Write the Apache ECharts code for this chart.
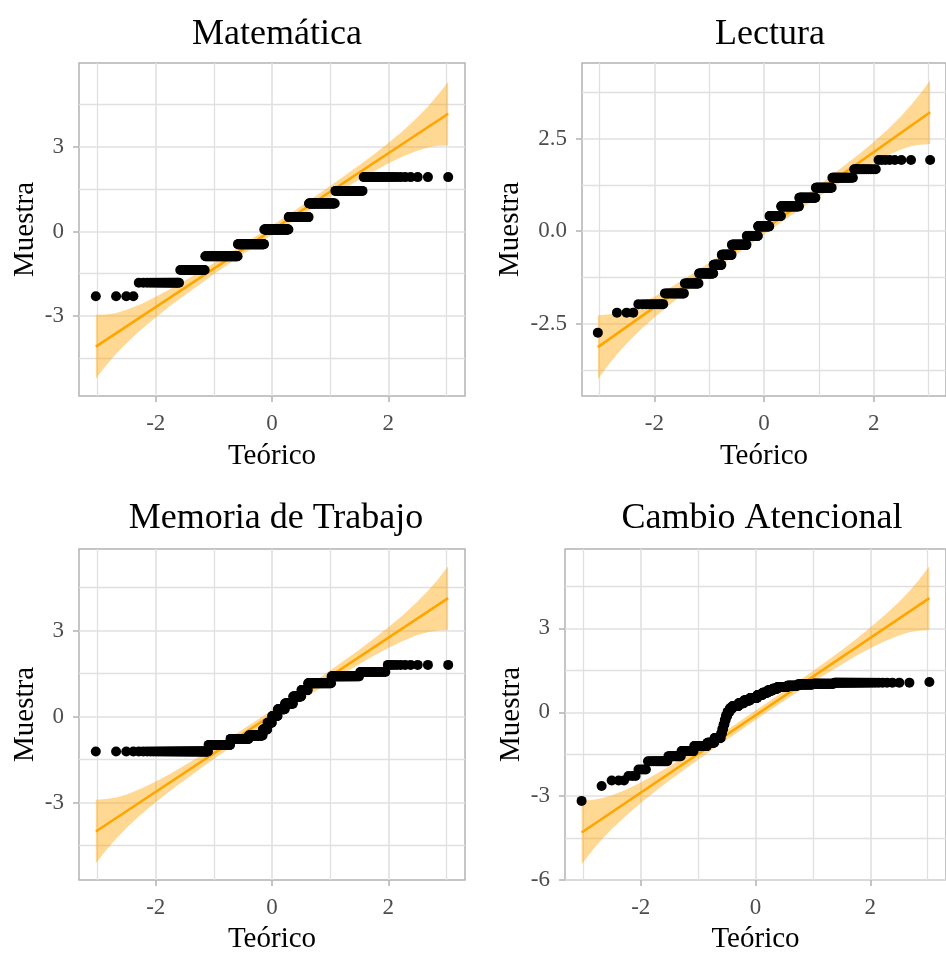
<!DOCTYPE html>
<html>
<head>
<meta charset="utf-8">
<script src="https://cdn.jsdelivr.net/npm/echarts@6/dist/echarts.min.js"></script>
<style>
  html, body { margin: 0; padding: 0; background: #ffffff; }
  #chart { width: 946px; height: 955px; }
</style>
</head>
<body>
<div id="chart"></div>
<script>
// Puntuaciones tipificadas distintas de cada prueba y número de casos con cada una
const matematicaValores = [-2.30, -1.82, -1.37, -0.88, -0.45, 0.07, 0.51, 0.99, 1.44, 1.93];
const matematicaFrecuencias = [4, 19, 28, 63, 69, 68, 51, 51, 33, 24];

const lecturaValores = [-2.74, -2.20, -1.97, -1.68, -1.41, -1.14, -0.91, -0.64, -0.37, -0.13,
  0.13, 0.41, 0.67, 0.90, 1.17, 1.44, 1.67, 1.92];
const lecturaFrecuencias = [1, 3, 10, 16, 18, 25, 17, 24, 40, 33, 34, 34, 48, 36, 27, 23, 13, 8];

const memoriaValores = [-1.22, -0.99, -0.78, -0.66, -0.45, -0.22, 0.02, 0.25, 0.45, 0.70,
  0.92, 1.16, 1.40, 1.55, 1.80];
const memoriaFrecuencias = [56, 41, 44, 38, 13, 13, 16, 20, 22, 21, 16, 47, 36, 17, 10];

const cambioValores = [-3.17, -2.64, -2.44, -2.28, -2.05, -1.75, -1.57, -1.39, -1.21, -1.09,
  -0.92, -0.76, -0.60, -0.44, -0.28, -0.13, 0.02, 0.14, 0.22, 0.32,
  0.42, 0.51, 0.62, 0.70, 0.78, 0.84, 0.90, 0.95, 0.99, 1.02,
  1.06, 1.08];
const cambioFrecuencias = [1, 1, 3, 3, 4, 14, 14, 18, 24, 15,
  15, 3, 3, 3, 3, 4, 6, 7, 16, 15,
  17, 21, 15, 14, 14, 13, 25, 24, 30, 30,
  34, 1];

// Recta de referencia: valor muestral en los cuantiles teóricos extremos
const extremosTeoricos = [-3.03, 3.03];
const matematicaRecta = [-4.09, 4.18];
const lecturaRecta = [-3.13, 3.21];
const memoriaRecta = [-4.01, 4.13];
const cambioRecta = [-4.30, 4.08];

// Banda de confianza puntual, evaluada en estos cuantiles teóricos
const cuantilesBanda = [-3.03, -2.85, -2.68, -2.49, -2.25, -2.0, -1.75, -1.5, -1.0, -0.5, 0,
  0.5, 1.0, 1.5, 1.75, 2.0, 2.25, 2.49, 2.68, 2.85, 3.03];
const matematicaBandaInf = [-5.22, -4.75, -4.34, -3.94, -3.48, -3.05, -2.64, -2.26, -1.52, -0.81, -0.12,
  0.56, 1.21, 1.84, 2.13, 2.41, 2.66, 2.86, 2.98, 3.04, 3.05];
const matematicaBandaSup = [-2.96, -2.95, -2.89, -2.77, -2.57, -2.32, -2.04, -1.75, -1.12, -0.47, 0.21,
  0.90, 1.61, 2.35, 2.73, 3.14, 3.57, 4.03, 4.43, 4.84, 5.31];
const lecturaBandaInf = [-3.99, -3.63, -3.32, -3.01, -2.66, -2.33, -2.02, -1.73, -1.16, -0.62, -0.09,
  0.43, 0.93, 1.41, 1.64, 1.85, 2.04, 2.20, 2.29, 2.33, 2.35];
const lecturaBandaSup = [-2.27, -2.25, -2.21, -2.12, -1.96, -1.77, -1.56, -1.33, -0.85, -0.35, 0.17,
  0.70, 1.24, 1.81, 2.10, 2.41, 2.74, 3.09, 3.40, 3.71, 4.07];
const memoriaBandaInf = [-5.12, -4.65, -4.26, -3.86, -3.41, -2.99, -2.59, -2.21, -1.48, -0.78, -0.10,
  0.56, 1.21, 1.82, 2.12, 2.39, 2.63, 2.83, 2.94, 3.00, 3.02];
const memoriaBandaSup = [-2.90, -2.88, -2.82, -2.71, -2.51, -2.27, -2.00, -1.70, -1.09, -0.44, 0.22,
  0.90, 1.60, 2.33, 2.71, 3.11, 3.53, 3.98, 4.38, 4.77, 5.24];
const cambioBandaInf = [-5.44, -4.96, -4.55, -4.15, -3.69, -3.25, -2.83, -2.44, -1.70, -0.98, -0.28,
  0.41, 1.07, 1.71, 2.01, 2.29, 2.54, 2.74, 2.86, 2.92, 2.94];
const cambioBandaSup = [-3.16, -3.14, -3.08, -2.96, -2.76, -2.51, -2.23, -1.93, -1.29, -0.63, 0.06,
  0.76, 1.48, 2.22, 2.61, 3.03, 3.47, 3.93, 4.33, 4.74, 5.22];

// Títulos y marcas de los ejes
const titulos = ['Matemática', 'Lectura', 'Memoria de Trabajo', 'Cambio Atencional'];
const marcasX = [-2, 0, 2];
const marcasXSecundarias = [-3, -1, 1, 3];
const marcasYMatematica = [-3, 0, 3];
const marcasYLectura = [-2.5, 0, 2.5];
const marcasYMemoria = [-3, 0, 3];
const marcasYCambio = [-6, -3, 0, 3];
const marcasYSecundarias3 = [-4.5, -1.5, 1.5, 4.5];
const marcasYSecundarias25 = [-3.75, -1.25, 1.25, 3.75];

// Cuantil de la normal estándar (aproximación racional de Acklam)
function qnorm(p) {
  const a = [-3.969683028665376e+01, 2.209460984245205e+02, -2.759285104469687e+02,
    1.383577518672690e+02, -3.066479806614716e+01, 2.506628277459239e+00];
  const b = [-5.447609879822406e+01, 1.615858368580409e+02, -1.556989798598866e+02,
    6.680131188771972e+01, -1.328068155288572e+01];
  const c = [-7.784894002430293e-03, -3.223964580411365e-01, -2.400758277161838e+00,
    -2.549732539343734e+00, 4.374664141464968e+00, 2.938163982698783e+00];
  const d = [7.784695709041462e-03, 3.224671290700398e-01, 2.445134137142996e+00,
    3.754408661907416e+00];
  const pl = 0.02425, ph = 1 - pl;
  let q, r;
  if (p < pl) {
    q = Math.sqrt(-2 * Math.log(p));
    return (((((c[0] * q + c[1]) * q + c[2]) * q + c[3]) * q + c[4]) * q + c[5]) /
      ((((d[0] * q + d[1]) * q + d[2]) * q + d[3]) * q + 1);
  }
  if (p > ph) {
    q = Math.sqrt(-2 * Math.log(1 - p));
    return -(((((c[0] * q + c[1]) * q + c[2]) * q + c[3]) * q + c[4]) * q + c[5]) /
      ((((d[0] * q + d[1]) * q + d[2]) * q + d[3]) * q + 1);
  }
  q = p - 0.5; r = q * q;
  return (((((a[0] * r + a[1]) * r + a[2]) * r + a[3]) * r + a[4]) * r + a[5]) * q /
    (((((b[0] * r + b[1]) * r + b[2]) * r + b[3]) * r + b[4]) * r + 1);
}

// Pares (cuantil teórico, valor muestral ordenado)
function puntosQQ(valores, frecuencias) {
  const muestra = [];
  valores.forEach((v, i) => { for (let k = 0; k < frecuencias[i]; k++) muestra.push(v); });
  const n = muestra.length;
  return muestra.map((v, i) => [qnorm((i + 0.5) / n), v]);
}

const paneles = [
  { valores: matematicaValores, frec: matematicaFrecuencias, recta: matematicaRecta,
    inf: matematicaBandaInf, sup: matematicaBandaSup, marcasY: marcasYMatematica,
    marcasY2: marcasYSecundarias3, yMin: -5.84, yMax: 5.98, decimales: 0,
    grid: { left: 79, top: 63, width: 386, height: 333 }, tituloX: 272, tituloTop: 12,
    gapX: 46, gapY: 39 },
  { valores: lecturaValores, frec: lecturaFrecuencias, recta: lecturaRecta,
    inf: lecturaBandaInf, sup: lecturaBandaSup, marcasY: marcasYLectura,
    marcasY2: marcasYSecundarias25, yMin: -4.45, yMax: 4.54, decimales: 1,
    grid: { left: 582, top: 63, width: 369, height: 333 }, tituloX: 765, tituloTop: 12,
    gapX: 46, gapY: 57 },
  { valores: memoriaValores, frec: memoriaFrecuencias, recta: memoriaRecta,
    inf: memoriaBandaInf, sup: memoriaBandaSup, marcasY: marcasYMemoria,
    marcasY2: marcasYSecundarias3, yMin: -5.70, yMax: 5.84, decimales: 0,
    grid: { left: 79, top: 549, width: 386, height: 331 }, tituloX: 271, tituloTop: 496,
    gapX: 45, gapY: 39 },
  { valores: cambioValores, frec: cambioFrecuencias, recta: cambioRecta,
    inf: cambioBandaInf, sup: cambioBandaSup, marcasY: marcasYCambio,
    marcasY2: marcasYSecundarias3, yMin: -6, yMax: 5.84, decimales: 0,
    grid: { left: 565, top: 549, width: 386, height: 331 }, tituloX: 757, tituloTop: 496,
    gapX: 45, gapY: 39 }
];

const fuente = 'Liberation Serif';
const colorBorde = '#B3B3B3';
const colorRejilla = '#E0E0E0';

const option = {
  backgroundColor: '#ffffff',
  animation: false,
  title: [], grid: [], xAxis: [], yAxis: [], series: []
};

paneles.forEach((p, k) => {
  option.title.push({
    text: titulos[k], left: p.tituloX, top: p.tituloTop, textAlign: 'center',
    textStyle: { fontFamily: fuente, fontSize: 36, fontWeight: 'normal', color: '#000000' }
  });
  option.grid.push(Object.assign({
    show: true, borderColor: colorBorde, borderWidth: 1.5, backgroundColor: '#ffffff'
  }, p.grid));

  // Eje principal: marcas, etiquetas y rejilla mayor (siempre en el borde del panel)
  option.xAxis.push({
    type: 'value', gridIndex: k, min: -3.32, max: 3.32, position: 'bottom',
    axisLine: { show: false, onZero: false },
    axisTick: { show: true, length: 6, lineStyle: { color: colorBorde, width: 1.5 }, customValues: marcasX },
    axisLabel: { customValues: marcasX, color: '#4D4D4D', fontFamily: fuente, fontSize: 23, margin: 16 },
    splitLine: { show: true, lineStyle: { color: colorRejilla, width: 1.6 } },
    name: 'Teórico', nameLocation: 'middle', nameGap: p.gapX,
    nameTextStyle: { fontFamily: fuente, fontSize: 29, color: '#000000' }
  });
  // Eje auxiliar: rejilla menor
  option.xAxis.push({
    type: 'value', gridIndex: k, min: -3.32, max: 3.32, position: 'bottom',
    axisLine: { show: false, onZero: false },
    axisTick: { show: false, customValues: marcasXSecundarias },
    axisLabel: { show: false },
    splitLine: { show: true, lineStyle: { color: colorRejilla, width: 1.3 } }
  });
  option.yAxis.push({
    type: 'value', gridIndex: k, min: p.yMin, max: p.yMax, position: 'left',
    axisLine: { show: false, onZero: false },
    axisTick: { show: true, length: 6, lineStyle: { color: colorBorde, width: 1.5 }, customValues: p.marcasY },
    axisLabel: {
      customValues: p.marcasY, color: '#4D4D4D', fontFamily: fuente, fontSize: 23, margin: 15,
      formatter: v => v.toFixed(p.decimales)
    },
    splitLine: { show: true, lineStyle: { color: colorRejilla, width: 1.6 } },
    name: 'Muestra', nameLocation: 'middle', nameGap: p.gapY, nameRotate: 90,
    nameTextStyle: { fontFamily: fuente, fontSize: 29, color: '#000000' }
  });
  option.yAxis.push({
    type: 'value', gridIndex: k, min: p.yMin, max: p.yMax, position: 'left',
    axisLine: { show: false, onZero: false },
    axisTick: { show: false, customValues: p.marcasY2 },
    axisLabel: { show: false },
    splitLine: { show: true, lineStyle: { color: colorRejilla, width: 1.3 } }
  });

  const ix = 2 * k;
  // Banda de confianza
  option.series.push({
    type: 'custom', xAxisIndex: ix, yAxisIndex: ix, silent: true, z: 2,
    data: [[0, 0]],
    renderItem: (params, api) => {
      const pts = [];
      cuantilesBanda.forEach((x, j) => pts.push(api.coord([x, p.sup[j]])));
      for (let j = cuantilesBanda.length - 1; j >= 0; j--) pts.push(api.coord([cuantilesBanda[j], p.inf[j]]));
      return { type: 'polygon', shape: { points: pts }, style: { fill: 'rgba(255,165,0,0.42)' } };
    }
  });
  // Recta de referencia
  option.series.push({
    type: 'line', xAxisIndex: ix, yAxisIndex: ix, silent: true, z: 3,
    data: extremosTeoricos.map((x, j) => [x, p.recta[j]]),
    symbol: 'none', lineStyle: { color: '#FFA500', width: 2.6 }
  });
  // Puntos del gráfico Q-Q
  option.series.push({
    type: 'scatter', xAxisIndex: ix, yAxisIndex: ix, silent: true, z: 4,
    data: puntosQQ(p.valores, p.frec),
    symbol: 'circle', symbolSize: 10, itemStyle: { color: '#000000', opacity: 1 }
  });
});

const chart = echarts.init(document.getElementById('chart'), null, { renderer: 'canvas' });
chart.setOption(option);
</script>
</body>
</html>
